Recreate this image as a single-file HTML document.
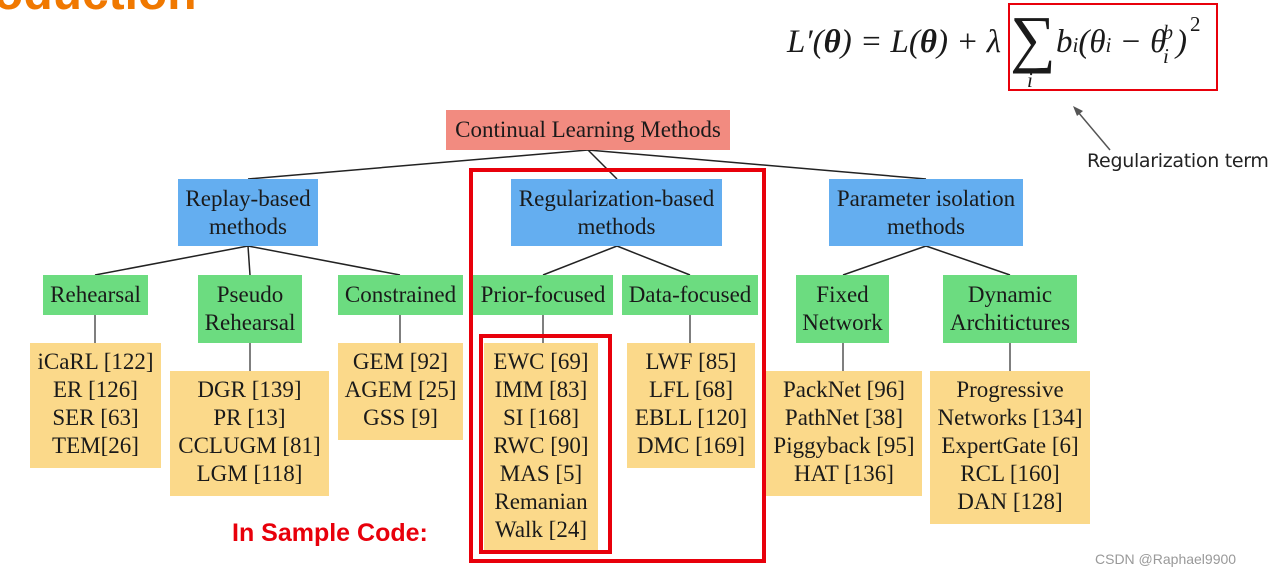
<!DOCTYPE html>
<html><head><meta charset="utf-8"><style>
body{margin:0;width:1275px;height:578px;background:#fff;position:relative;overflow:hidden;font-family:"Liberation Serif",serif;color:#1a1a1a}
.b{position:absolute;display:flex;align-items:center;justify-content:center;text-align:center;font-size:23px;line-height:28px;white-space:nowrap}
.r{background:#f28b80}.u{background:#64aef0}.g{background:#6cdc80}.y{background:#fbd98a;align-items:flex-start;padding-top:5px;box-sizing:border-box}
.red{position:absolute;border:4px solid #e8000b;box-sizing:border-box}
.m{position:absolute;font-family:"Liberation Serif",serif;font-style:italic;white-space:nowrap}
</style></head><body>
<div style="position:absolute;left:-6px;top:-34px;font:bold 48px 'Liberation Sans',sans-serif;color:#f07800">oduction</div>
<div class="m" style="left:787px;top:24px;font-size:33px">L′(<b>θ</b>) = L(<b>θ</b>) + λ</div>
<div class="m" style="left:1010px;top:2px;font-size:64px;font-style:normal">∑</div>
<div class="m" style="left:1027px;top:68px;font-size:21px">i</div>
<div class="m" style="left:1056px;top:24px;font-size:33px">b<span style="font-size:21px">i</span>(θ<span style="font-size:21px">i</span> − θ</div>
<div class="m" style="left:1163px;top:22px;font-size:20px">b</div>
<div class="m" style="left:1163px;top:44px;font-size:21px">i</div>
<div class="m" style="left:1176px;top:24px;font-size:33px">)</div>
<div class="m" style="left:1190px;top:12px;font-size:21px;font-style:normal">2</div>
<div class="red" style="left:1008px;top:3px;width:210px;height:88px;border-width:2px"></div>
<div style="position:absolute;left:1087px;top:150px;font:19px 'DejaVu Sans',sans-serif;color:#222;letter-spacing:-0.3px">Regularization term</div>
<div style="position:absolute;left:232px;top:519px;font:bold 25px 'Liberation Sans',sans-serif;color:#e8000b">In Sample Code:</div>
<div style="position:absolute;left:1095px;top:551px;font:14px 'Liberation Sans',sans-serif;color:#999">CSDN @Raphael9900</div>
<svg style="position:absolute;left:0;top:0" width="1275" height="578">
<g stroke="#222" stroke-width="1.5" fill="none">
<path d="M588 150L248 179M588 150L617 179M588 150L926 179M248 246L95 275M248 246L250 275M248 246L400 275M617 246L543 275M617 246L690 275M926 246L843 275M926 246L1010 275"/>
<path d="M95 315V343M250 343V371M400 315V343M543 315V343M690 315V343M843 343V371M1010 343V371" stroke="#555"/>
</g>
<line x1="1110" y1="150" x2="1078" y2="112" stroke="#555" stroke-width="1.5"/>
<polygon points="1073,106 1083,111 1077,116" fill="#555"/>
</svg>
<div class="b r" style="left:446px;top:110px;width:284px;height:40px">Continual Learning Methods</div>
<div class="b u" style="left:178px;top:179px;width:140px;height:67px">Replay-based<br>methods</div>
<div class="b u" style="left:511px;top:179px;width:211px;height:67px">Regularization-based<br>methods</div>
<div class="b u" style="left:829px;top:179px;width:194px;height:67px">Parameter isolation<br>methods</div>
<div class="b g" style="left:43px;top:275px;width:105px;height:40px">Rehearsal</div>
<div class="b g" style="left:198px;top:275px;width:104px;height:68px">Pseudo<br>Rehearsal</div>
<div class="b g" style="left:338px;top:275px;width:125px;height:40px">Constrained</div>
<div class="b g" style="left:473px;top:275px;width:140px;height:40px">Prior-focused</div>
<div class="b g" style="left:622px;top:275px;width:136px;height:40px">Data-focused</div>
<div class="b g" style="left:796px;top:275px;width:93px;height:68px">Fixed<br>Network</div>
<div class="b g" style="left:943px;top:275px;width:134px;height:68px">Dynamic<br>Architictures</div>
<div class="b y" style="left:30px;top:343px;width:131px;height:125px">iCaRL [122]<br>ER [126]<br>SER [63]<br>TEM[26]</div>
<div class="b y" style="left:170px;top:371px;width:159px;height:125px">DGR [139]<br>PR [13]<br>CCLUGM [81]<br>LGM [118]</div>
<div class="b y" style="left:338px;top:343px;width:125px;height:97px">GEM [92]<br>AGEM [25]<br>GSS [9]</div>
<div class="b y" style="left:484px;top:343px;width:114px;height:209px">EWC [69]<br>IMM [83]<br>SI [168]<br>RWC [90]<br>MAS [5]<br>Remanian<br>Walk [24]</div>
<div class="b y" style="left:627px;top:343px;width:128px;height:125px">LWF [85]<br>LFL [68]<br>EBLL [120]<br>DMC [169]</div>
<div class="b y" style="left:766px;top:371px;width:156px;height:125px">PackNet [96]<br>PathNet [38]<br>Piggyback [95]<br>HAT [136]</div>
<div class="b y" style="left:930px;top:371px;width:160px;height:153px">Progressive<br>Networks [134]<br>ExpertGate [6]<br>RCL [160]<br>DAN [128]</div>
<div class="red" style="left:469px;top:168px;width:297px;height:395px"></div>
<div class="red" style="left:479px;top:334px;width:133px;height:220px"></div>
</body></html>
